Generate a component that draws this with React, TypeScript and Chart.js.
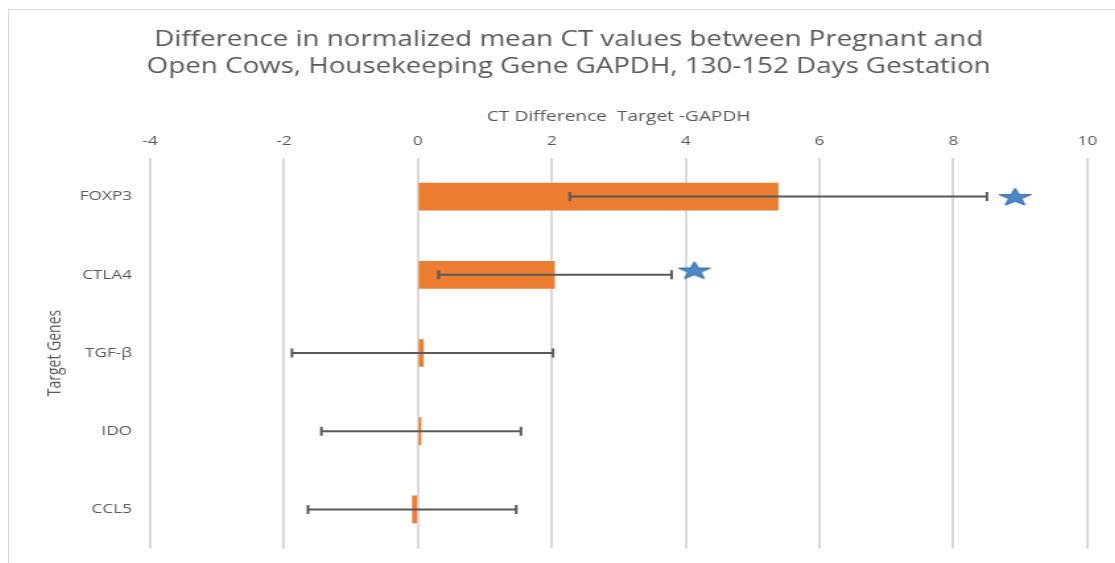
import React, { useEffect, useRef } from 'react';
import { Chart, registerables } from 'chart.js';

Chart.register(...registerables);

// ---------- data ----------
const categories = ['FOXP3', 'CTLA4', 'TGF-β', 'IDO', 'CCL5'];
const meanDiff = [5.38, 2.04, 0.08, 0.045, -0.08];
const errLow = [2.27, 0.31, -1.88, -1.44, -1.64];
const errHigh = [8.5, 3.79, 2.02, 1.54, 1.47];
const starX = [8.92, 4.13];
const starY = [0.5, 1.44];
const xTicks = [-4, -2, 0, 2, 4, 6, 8, 10];
const titleLines = [
  'Difference in normalized mean CT values between Pregnant and',
  'Open Cows, Housekeeping Gene GAPDH, 130-152 Days Gestation',
];
const xTitle = 'CT Difference  Target -GAPDH';
const yTitle = 'Target Genes';

// ---------- layout ----------
const S = 1.32; // horizontal stretch of the reference image
const PX = (px: number) => (px - 9) / S;
const W = (2 * (569 - 9)) / S;
const H = 575;
const PLOT_TOP = 147.5;
const PLOT_BOTTOM = 538.5;
const PLOT_LEFT = PX(150);
const PLOT_RIGHT = PX(1088);
const TEXT = '#595959';
const FONT = "'Open Sans', sans-serif";

function makeStar(w: number, h: number) {
  const c = document.createElement('canvas');
  c.width = Math.ceil(w) + 2;
  c.height = Math.ceil(h) + 2;
  const ctx = c.getContext('2d')!;
  const sx = w / 1.902;
  const sy = h / 1.809;
  const cx = c.width / 2;
  const cy = c.height / 2 + 0.0955 * sy;
  ctx.beginPath();
  for (let i = 0; i < 10; i++) {
    const a = -Math.PI / 2 + (i * Math.PI) / 5;
    const r = i % 2 === 0 ? 1 : 0.4;
    const px = cx + r * Math.cos(a) * sx;
    const py = cy + r * Math.sin(a) * sy;
    if (i === 0) ctx.moveTo(px, py);
    else ctx.lineTo(px, py);
  }
  ctx.closePath();
  ctx.fillStyle = '#4A88CB';
  ctx.fill();
  ctx.lineWidth = 1;
  ctx.strokeStyle = '#3565A0';
  ctx.stroke();
  return c;
}

function makeMarksPlugin(star: HTMLCanvasElement) {
  return {
    id: 'errorBarsAndStars',
    afterDatasetsDraw(chart: any) {
      const ctx = chart.ctx;
      const x = chart.scales.x;
      const y = chart.scales.y;
      const ys = chart.scales.yStar;
      ctx.save();
      ctx.strokeStyle = '#595959';
      ctx.lineWidth = 2;
      categories.forEach((_c, i) => {
        const yy = y.getPixelForValue(i);
        const x1 = x.getPixelForValue(errLow[i]);
        const x2 = x.getPixelForValue(errHigh[i]);
        ctx.beginPath();
        ctx.moveTo(x1, yy);
        ctx.lineTo(x2, yy);
        ctx.moveTo(x1, yy - 4.5);
        ctx.lineTo(x1, yy + 4.5);
        ctx.moveTo(x2, yy - 4.5);
        ctx.lineTo(x2, yy + 4.5);
        ctx.stroke();
      });
      starX.forEach((v, i) => {
        const px = x.getPixelForValue(v);
        const py = ys.getPixelForValue(starY[i]);
        ctx.drawImage(star, px - star.width / 2, py - star.height / 2);
      });
      ctx.restore();
    },
  };
}

export default function App() {
  const ref = useRef<HTMLCanvasElement>(null);

  useEffect(() => {
    const star = makeStar(32 / S, 17);
    const chart = new Chart(ref.current!, {
      type: 'bar',
      data: {
        labels: categories,
        datasets: [
          {
            data: meanDiff,
            backgroundColor: '#ED7D31',
            barThickness: 27,
            xAxisID: 'x',
            yAxisID: 'y',
          },
        ],
      },
      options: {
        indexAxis: 'y',
        animation: false,
        responsive: false,
        devicePixelRatio: 1,
        layout: {
          padding: { left: 0, right: 0, top: 0, bottom: H - PLOT_BOTTOM },
        },
        plugins: {
          legend: { display: false },
          tooltip: { enabled: false },
          title: {
            display: true,
            text: titleLines,
            color: TEXT,
            font: { family: FONT, size: 21, weight: 'normal', lineHeight: '27.5px' },
            padding: { top: 16, bottom: 17 },
          },
        },
        scales: {
          x: {
            type: 'linear',
            axis: 'x',
            position: 'top',
            min: -4,
            max: 10,
            offset: false,
            afterBuildTicks: (s: any) => {
              s.ticks = xTicks.map((v) => ({ value: v }));
            },
            ticks: { color: TEXT, font: { family: FONT, size: 13 }, padding: 8 },
            grid: { color: '#D9D9D9', lineWidth: 2, drawTicks: false, offset: false },
            border: { display: false },
            title: {
              display: true,
              text: xTitle,
              color: TEXT,
              font: { family: FONT, size: 14.5 },
              padding: { top: 10, bottom: 0 },
            },
            afterFit: (s: any) => {
              s.height = PLOT_TOP - 88;
            },
          },
          y: {
            type: 'category',
            axis: 'y',
            position: 'left',
            offset: true,
            grid: { display: false, drawTicks: false },
            border: { display: false },
            ticks: { color: TEXT, font: { family: FONT, size: 13 }, padding: 18 / S },
            title: {
              display: true,
              text: yTitle,
              color: TEXT,
              font: { family: FONT, size: 14 },
              padding: { top: PX(55) - 8.4, bottom: 0 },
            },
            afterFit: (s: any) => {
              s.width = PLOT_LEFT;
            },
          },
          yStar: {
            type: 'linear',
            axis: 'y',
            position: 'right',
            display: true,
            offset: false,
            min: 0,
            max: 5,
            reverse: true,
            ticks: { display: false },
            grid: { display: false, drawTicks: false },
            border: { display: false },
            afterFit: (s: any) => {
              s.width = W - PLOT_RIGHT;
            },
          },
        },
      } as any,
      plugins: [makeMarksPlugin(star)],
    });
    return () => chart.destroy();
  }, []);

  return (
    <div
      style={{
        position: 'fixed',
        left: 0,
        top: 0,
        width: '100vw',
        height: '100vh',
        overflow: 'hidden',
        background: '#fff',
      }}
    >
      <div
        style={{
          position: 'absolute',
          left: 8,
          top: 9,
          width: 1300,
          height: 700,
          border: '1px solid #D9D9D9',
          overflow: 'hidden',
        }}
      >
        <canvas
          ref={ref}
          width={Math.round(W)}
          height={H}
          style={{
            display: 'block',
            width: Math.round(W),
            height: H,
            transform: `scaleX(${S})`,
            transformOrigin: '0 0',
          }}
        />
      </div>
    </div>
  );
}
